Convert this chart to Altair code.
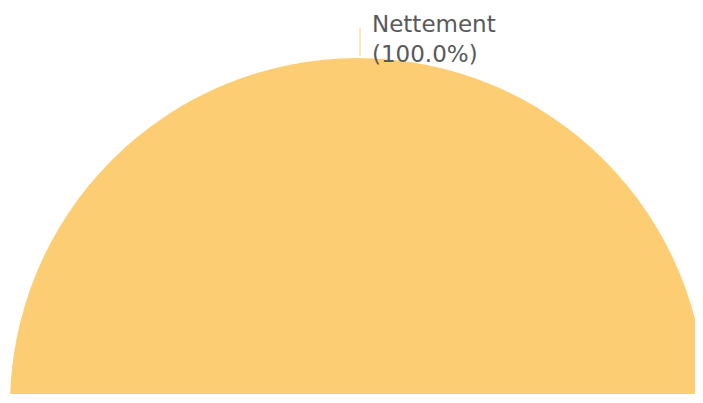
import altair as alt
import pandas as pd

categories = ["Nettement"]
values = [100.0]
colors = ["#FDCD74"]

total = sum(values)
df = pd.DataFrame({
    "category": categories,
    "value": values,
    "label": [f"{c}\n({v / total * 100:.1f}%)" for c, v in zip(categories, values)],
})

base = alt.Chart(df)

pie = base.mark_arc(stroke=None).encode(
    theta=alt.Theta("value:Q", stack=True),
    color=alt.Color("category:N", scale=alt.Scale(domain=categories, range=colors), legend=None),
    x=alt.value(350),
    y=alt.value(398),
    radius=alt.value(348),
)

leader = base.mark_rule(color=colors[0], strokeWidth=1).encode(
    x=alt.value(352), y=alt.value(20), y2=alt.value(48)
)

label = base.mark_text(
    align="left", baseline="alphabetic", font="DejaVu Sans", fontSize=23,
    color="#595959", lineBreak="\n", lineHeight=30,
).encode(x=alt.value(364), y=alt.value(24), text="label:N")

chart = alt.layer(pie, leader, label).properties(
    width=687, height=386, padding=0, autosize=alt.AutoSizeParams(type="none")
).configure_view(stroke=None)

chart.save("out.html", embed_options={"renderer": "svg", "actions": False})
